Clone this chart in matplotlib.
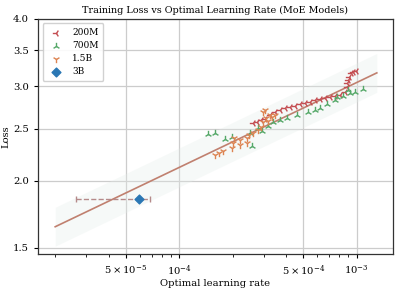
import numpy as np
import matplotlib
matplotlib.use("Agg")
import matplotlib.pyplot as plt
from matplotlib.ticker import NullFormatter, NullLocator, FixedLocator, FixedFormatter

plt.rcParams["font.family"] = "DejaVu Serif"
plt.rcParams["mathtext.fontset"] = "dejavuserif"

# optimal learning rate / loss per model size
lr_200m = [2.61e-4, 2.74e-4, 2.89e-4, 3.04e-4, 3.25e-4, 3.46e-4, 3.69e-4, 3.94e-4, 4.20e-4,
           4.48e-4, 4.78e-4, 5.10e-4, 5.44e-4, 5.80e-4, 6.19e-4, 6.60e-4, 7.05e-4, 7.52e-4,
           8.02e-4, 8.55e-4, 8.78e-4, 8.78e-4, 8.90e-4, 9.02e-4, 9.26e-4, 9.50e-4, 9.88e-4]
loss_200m = [2.56, 2.57, 2.59, 2.61, 2.65, 2.68, 2.71, 2.73, 2.74,
             2.75, 2.78, 2.79, 2.80, 2.83, 2.84, 2.85, 2.86, 2.87,
             2.89, 2.93, 2.99, 3.04, 3.08, 3.12, 3.17, 3.19, 3.20]

lr_700m = [1.456e-4, 1.593e-4, 1.813e-4, 1.985e-4, 2.505e-4, 2.57e-4, 2.78e-4, 2.93e-4,
           3.16e-4, 3.37e-4, 3.69e-4, 4.04e-4, 4.60e-4, 5.30e-4, 5.81e-4, 6.19e-4, 6.78e-4,
           7.52e-4, 7.72e-4, 8.34e-4, 8.90e-4, 9.14e-4, 9.75e-4, 1.08e-3]
loss_700m = [2.443, 2.455, 2.39, 2.41, 2.455, 2.32, 2.51, 2.475,
             2.53, 2.575, 2.594, 2.616, 2.65, 2.685, 2.707, 2.73, 2.777,
             2.826, 2.86, 2.874, 2.95, 2.912, 2.925, 2.963]

lr_1p5b = [1.593e-4, 1.678e-4, 1.767e-4, 1.985e-4, 2.01e-4, 2.04e-4, 2.20e-4, 2.20e-4,
           2.41e-4, 2.41e-4, 2.47e-4, 2.61e-4, 2.78e-4, 2.89e-4, 2.96e-4, 2.96e-4, 3.04e-4,
           3.08e-4, 3.16e-4, 3.25e-4, 3.33e-4, 3.46e-4]
loss_1p5b = [2.232, 2.251, 2.27, 2.30, 2.35, 2.40, 2.33, 2.381,
             2.35, 2.40, 2.432, 2.455, 2.485, 2.516, 2.575, 2.684, 2.707,
             2.616, 2.584, 2.65, 2.627, 2.65]

lr_3b = 5.96e-5
loss_3b = 1.849
lr_3b_low = 2.61e-5
lr_3b_high = 6.87e-5

# power-law fit: loss = A * lr^b
fit_A = 9.07
fit_b = 0.158
fit_lr_min, fit_lr_max = 2.0e-5, 1.3e-3
band_factor = 1.087

x_ticks = [5e-5, 1e-4, 5e-4, 1e-3]
x_tick_labels = [r"$5\times10^{-5}$", r"$10^{-4}$", r"$5\times10^{-4}$", r"$10^{-3}$"]
y_ticks = [1.5, 2.0, 2.5, 3.0, 3.5, 4.0]

fig = plt.figure(figsize=(3.98, 2.91), dpi=100)
ax = fig.add_axes([0.0955, 0.127, 0.8915, 0.808])

xs = np.logspace(np.log10(fit_lr_min), np.log10(fit_lr_max), 100)
ys = fit_A * xs ** fit_b
ax.fill_between(xs, ys / band_factor, ys * band_factor, color="#e4ede9", alpha=0.3, lw=0, zorder=1)
ax.plot(xs, ys, color="#c0806f", lw=1.2, zorder=2)

ax.scatter(lr_200m, loss_200m, marker="3", color="#c44e52", s=28, lw=1.0, label="200M", zorder=3)
ax.scatter(lr_700m, loss_700m, marker="2", color="#55a868", s=28, lw=1.0, label="700M", zorder=3)
ax.scatter(lr_1p5b, loss_1p5b, marker="1", color="#dd8452", s=28, lw=1.0, label="1.5B", zorder=3)

eb = ax.errorbar([lr_3b], [loss_3b], xerr=[[lr_3b - lr_3b_low], [lr_3b_high - lr_3b]],
                 fmt="none", ecolor="#b58a8a", elinewidth=1.0, capsize=2.5, zorder=3)
eb[-1][0].set_linestyle("--")
ax.scatter([lr_3b], [loss_3b], marker="D", color="#2a77b4", s=20, label="3B", zorder=4)

ax.set_xscale("log")
ax.set_yscale("log")
ax.set_xlim(1.6e-5, 1.6e-3)
ax.set_ylim(1.46, 4.0)

ax.xaxis.set_major_locator(FixedLocator(x_ticks))
ax.xaxis.set_major_formatter(FixedFormatter(x_tick_labels))
ax.xaxis.set_minor_formatter(NullFormatter())
ax.yaxis.set_major_locator(FixedLocator(y_ticks))
ax.yaxis.set_major_formatter(FixedFormatter([f"{v:.1f}" for v in y_ticks]))
ax.yaxis.set_minor_locator(NullLocator())

ax.grid(True, which="major", color="#cccccc", lw=0.9)
ax.set_axisbelow(True)
ax.tick_params(labelsize=7.2, length=3, width=0.8)
for s in ax.spines.values():
    s.set_color("#333333")
    s.set_linewidth(0.9)

ax.set_title("Training Loss vs Optimal Learning Rate (MoE Models)", fontsize=6.9, pad=4)
ax.set_xlabel("Optimal learning rate", fontsize=7.2, labelpad=1)
ax.set_ylabel("Loss", fontsize=7.2, labelpad=2)
ax.legend(loc="upper left", fontsize=6.5, framealpha=0.9, edgecolor="#cccccc",
          handletextpad=0.8, borderpad=0.5, labelspacing=0.45)

fig.savefig("out.png", dpi=100)
